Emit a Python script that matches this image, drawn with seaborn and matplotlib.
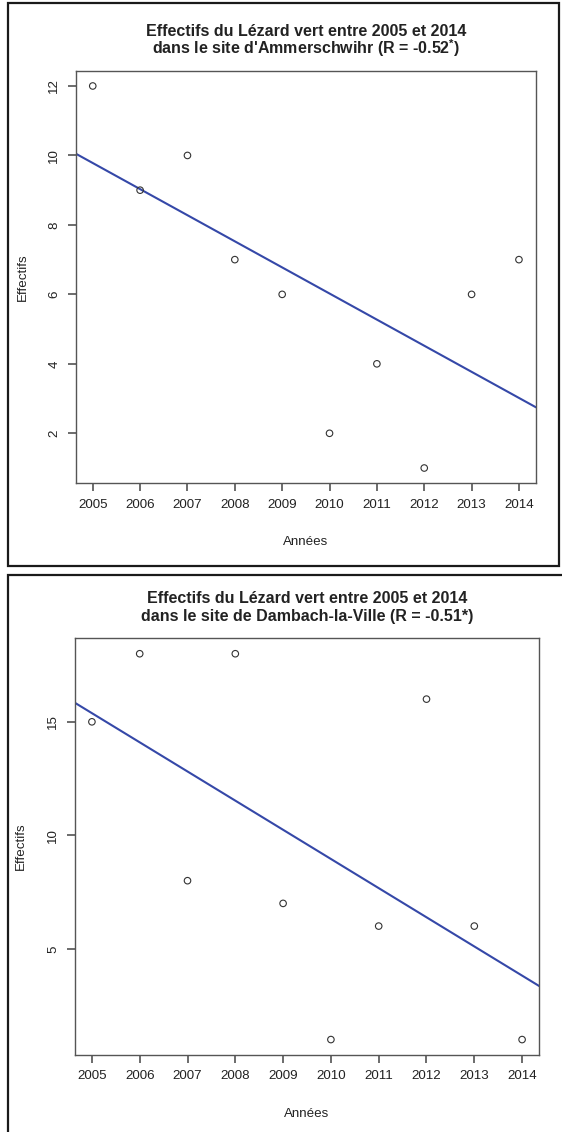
# Effectifs du Lézard vert, deux sites, regression lineaire
import matplotlib
matplotlib.use("Agg")
import matplotlib.pyplot as plt
import seaborn as sns
from matplotlib.patches import Rectangle

# Donnees
annees = [2005, 2006, 2007, 2008, 2009, 2010, 2011, 2012, 2013, 2014]
ammerschwihr = [12, 9, 10, 7, 6, 2, 4, 1, 6, 7]
dambach = [15, 18, 8, 18, 7, 1, 6, 16, 6, 1]

titre1 = "Effectifs du Lézard vert entre 2005 et 2014"
titre2_a = r"dans le site d'Ammerschwihr (R = -0.52$^{\mathbf{*}}$)"
titre2_b = "dans le site de Dambach-la-Ville (R = -0.51*)"
yticks_a = [2, 4, 6, 8, 10, 12]
yticks_b = [5, 10, 15]

sns.set_theme(style="ticks")
plt.rcParams["font.family"] = ["Liberation Sans", "DejaVu Sans"]
plt.rcParams["mathtext.fontset"] = "custom"
plt.rcParams["mathtext.rm"] = "Liberation Sans"
plt.rcParams["mathtext.bf"] = "Liberation Sans:bold"

W, H = 562, 1132
fig = plt.figure(figsize=(W / 100, H / 100), dpi=100)

line_col = "#3548a8"
box_col = "#555555"
txt_col = "#222222"


def r_lim(v):
    # etendue style R (4 %)
    lo, hi = min(v), max(v)
    d = (hi - lo) * 0.04
    return lo - d, hi + d


def panel(rect_px, y, yticks, t2):
    x0, y0, x1, y1 = rect_px
    ax = fig.add_axes([x0 / W, 1 - y1 / H, (x1 - x0) / W, (y1 - y0) / H])
    # limites posees avant regplot pour que la droite couvre tout l'axe
    ax.set_xlim(r_lim(annees))
    ax.set_ylim(r_lim(y))
    sns.regplot(x=annees, y=y, ax=ax, ci=None, truncate=False,
                scatter_kws=dict(color="none", edgecolor="#333333", s=22,
                                 linewidths=0.8, alpha=1, zorder=3),
                line_kws=dict(color=line_col, lw=1.5))
    ax.set_xlim(r_lim(annees))
    ax.set_ylim(r_lim(y))
    ax.set_xticks(annees)
    ax.set_yticks(yticks)
    ax.tick_params(direction="out", length=6, width=1.1,
                   color="#444444", pad=5, labelsize=9.6,
                   labelcolor=txt_col, bottom=True, left=True)
    for lab in ax.get_yticklabels():
        lab.set_rotation(90)
        lab.set_va("center")
    for s in ax.spines.values():
        s.set_visible(True)
        s.set_color(box_col)
        s.set_linewidth(1.0)
    ax.set_xlabel("Années", fontsize=9.6, color=txt_col)
    ax.set_ylabel("Effectifs", fontsize=9.6, color=txt_col)
    ax.xaxis.set_label_coords(0.5, -0.127)
    ax.yaxis.set_label_coords(-0.102, 0.5)
    xc = (x0 + x1) / 2 / W
    fig.text(xc, 1 - (y0 - 35) / H, titre1, ha="center", va="baseline",
             fontsize=11.5, fontweight="bold", color=txt_col)
    fig.text(xc, 1 - (y0 - 17) / H, t2, ha="center", va="baseline",
             fontsize=11.5, fontweight="bold", color=txt_col)
    return ax


panel((75.7, 70.7, 536, 483.3), ammerschwihr, yticks_a, titre2_a)
panel((74.7, 638.3, 539.3, 1055), dambach, yticks_b, titre2_b)

# cadres autour des deux panneaux
fig.patches.append(Rectangle((8 / W, 1 - 566 / H), 551 / W, 563 / H,
                             transform=fig.transFigure, fill=False,
                             ec="#1a1a1a", lw=1.6))
fig.patches.append(Rectangle((8 / W, 1 - 1200 / H), 600 / W, 625 / H,
                             transform=fig.transFigure, fill=False,
                             ec="#1a1a1a", lw=1.6))

fig.savefig("out.png", dpi=100)
